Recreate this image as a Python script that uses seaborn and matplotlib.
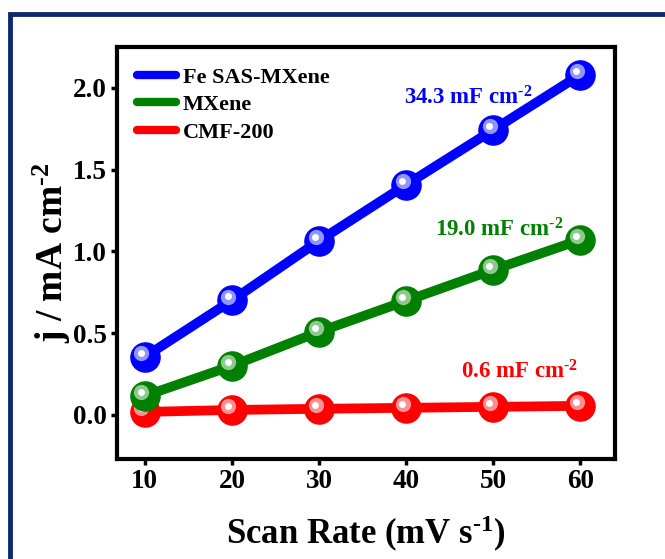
import matplotlib
matplotlib.use("Agg")
import matplotlib.pyplot as plt
import matplotlib.transforms as mtransforms
from matplotlib.patches import Rectangle
from matplotlib.lines import Line2D
import pandas as pd
import seaborn as sns

scan_rate = [10, 20, 30, 40, 50, 60]
fe_sas = [0.355, 0.70, 1.064, 1.407, 1.743, 2.08]
mxene = [0.116, 0.30, 0.508, 0.697, 0.887, 1.07]
cmf = [0.018, 0.030, 0.037, 0.043, 0.049, 0.055]
series_names = ["Fe SAS-MXene", "MXene", "CMF-200"]
series_colors = ["#0000ff", "#008000", "#ff0000"]
light_colors = ["#aab0ff", "#a8d8a8", "#ffaaaa"]
annotations = [r"34.3 mF cm$^{\text{-2}}$", r"19.0 mF cm$^{\text{-2}}$", r"0.6 mF cm$^{\text{-2}}$"]
xticks = [10, 20, 30, 40, 50, 60]
yticks = [0.0, 0.5, 1.0, 1.5, 2.0]

sns.set_theme(style="white")
plt.rcParams["font.family"] = ["Liberation Serif", "DejaVu Serif"]
plt.rcParams["font.weight"] = "bold"
plt.rcParams["text.color"] = "black"
plt.rcParams["axes.labelcolor"] = "black"
plt.rcParams["xtick.color"] = "black"
plt.rcParams["ytick.color"] = "black"
plt.rcParams["mathtext.fontset"] = "custom"
plt.rcParams["mathtext.rm"] = "Liberation Serif:bold"
plt.rcParams["mathtext.it"] = "Liberation Serif:italic:bold"
plt.rcParams["mathtext.bf"] = "Liberation Serif:bold"
plt.rcParams["mathtext.default"] = "regular"

df = pd.DataFrame({
    "scan": scan_rate * 3,
    "j": fe_sas + mxene + cmf,
    "series": [n for n in series_names for _ in scan_rate],
})

fig = plt.figure(figsize=(6.65, 5.59), dpi=100)
ax = fig.add_axes([117 / 665, 1 - 459 / 559, (615 - 117) / 665, (459 - 47) / 559])

sns.lineplot(data=df, x="scan", y="j", hue="series", hue_order=series_names,
             palette=series_colors, linewidth=7, ax=ax, legend=False,
             zorder=2)

# sphere-like markers
hl = mtransforms.offset_copy(ax.transData, fig=fig, x=-2.5, y=2.5, units="points")
hl2 = mtransforms.offset_copy(ax.transData, fig=fig, x=-3, y=3, units="points")
for vals, c, lc, z in zip([fe_sas, mxene, cmf], series_colors, light_colors, [5, 4, 3]):
    ax.plot(scan_rate, vals, "o", ms=21, color=c, mec=c, zorder=z)
    ax.plot(scan_rate, vals, "o", ms=11, color=lc, mec="none", alpha=0.85,
            zorder=z, transform=hl)
    ax.plot(scan_rate, vals, "o", ms=5, color="white", mec="none",
            zorder=z, transform=hl2)

ax.set_xlim(6.8, 64)
ax.set_ylim(-0.27, 2.25)
ax.set_xticks(xticks)
ax.set_xticklabels([str(t) for t in xticks])
ax.set_yticks(yticks)
ax.set_yticklabels([f"{t:.1f}" for t in yticks])
ax.tick_params(axis="both", which="major", direction="out", length=4.5, width=2.5,
               labelsize=19.5, pad=3, colors="black", left=True, bottom=True)
for lab in ax.get_xticklabels() + ax.get_yticklabels():
    lab.set_fontweight("bold")
for sp in ax.spines.values():
    sp.set_linewidth(3)
    sp.set_color("black")

ax.set_xlabel(r"Scan Rate (mV s$^{\text{-1}}$)", fontsize=25, fontweight="bold",
              labelpad=14, color="black")
ax.set_ylabel(r"j / mA cm$^{\text{-2}}$", fontsize=27, fontweight="bold",
              labelpad=0, color="black")

# annotations
ax.text(47.1, 1.94, annotations[0], color=series_colors[0], fontsize=16.5,
        fontweight="bold", ha="center", va="center")
ax.text(50.7, 1.13, annotations[1], color=series_colors[1], fontsize=16.5,
        fontweight="bold", ha="center", va="center")
ax.text(53.0, 0.26, annotations[2], color=series_colors[2], fontsize=16.5,
        fontweight="bold", ha="center", va="center")

# legend
handles = [Line2D([0], [0], color=c, lw=6) for c in series_colors]
leg = ax.legend(handles, series_names, loc="upper left", frameon=False,
                prop={"family": "Liberation Serif", "weight": "bold", "size": 16},
                handlelength=1.75, handletextpad=0.3, labelspacing=0.32,
                borderaxespad=0.5, bbox_to_anchor=(0.0, 1.0), labelcolor="black")

# navy outer border
fig.patches.append(Rectangle((9.5 / 665, -0.2), 1.2, 0.2 + (1 - 14.5 / 559),
                             transform=fig.transFigure, fill=False,
                             edgecolor="#0b2a6e", linewidth=3.5, zorder=0))

fig.savefig("out.png", dpi=100)
